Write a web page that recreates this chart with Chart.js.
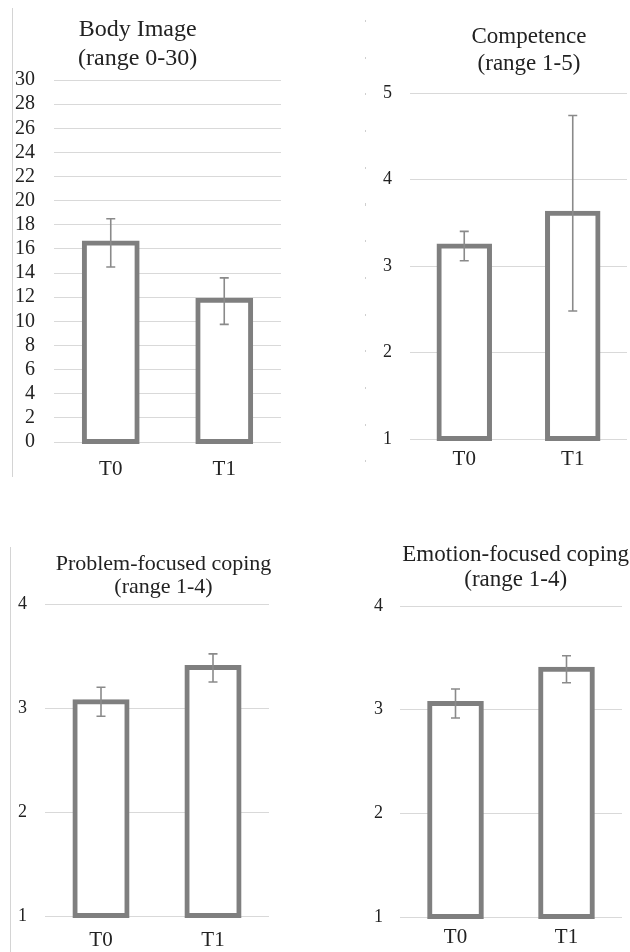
<!DOCTYPE html>
<html>
<head>
<meta charset="utf-8">
<script src="https://cdn.jsdelivr.net/npm/chart.js@4.4.0/dist/chart.umd.min.js"></script>
<style>
  body { margin: 0; background: #fff; width: 630px; height: 952px; overflow: hidden; position: relative; }
  canvas { position: absolute; }
  .t { position: absolute; font-family: "Liberation Serif", serif; color: #222; line-height: 1; white-space: nowrap; transform: translateX(-50%); }
  .vline { position: absolute; width: 1px; background: #d4d4d4; }
  .dots { position: absolute; width: 1px; background: repeating-linear-gradient(to bottom, #cfcfcf 0 2px, transparent 2px 36.7px); }
</style>
</head>
<body>
<div class="vline" style="left:12px;top:8px;height:469px"></div>
<div class="dots" style="left:365px;top:20px;height:460px"></div>
<div class="vline" style="left:10px;top:547px;height:405px"></div>

<canvas id="bodyChart" style="left:0;top:0;width:300px;height:482px"></canvas>
<canvas id="competenceChart" style="left:320px;top:0;width:310px;height:479px"></canvas>
<canvas id="problemChart" style="left:0;top:480px;width:300px;height:472px"></canvas>
<canvas id="emotionChart" style="left:320px;top:480px;width:310px;height:472px"></canvas>

<script>
const categories = ['T0', 'T1'];

// Body Image (range 0-30)
const bodyMeans = [16.5, 11.75];
const bodyLow = [14.5, 9.75];
const bodyHigh = [18.5, 13.6];

// Competence (range 1-5)
const competenceMeans = [3.23, 3.61];
const competenceLow = [3.06, 2.48];
const competenceHigh = [3.40, 4.74];

// Problem-focused coping (range 1-4)
const problemMeans = [3.06, 3.39];
const problemLow = [2.92, 3.25];
const problemHigh = [3.20, 3.52];

// Emotion-focused coping (range 1-4)
const emotionMeans = [3.06, 3.39];
const emotionLow = [2.92, 3.26];
const emotionHigh = [3.20, 3.52];

const barGrey = '#7f7f7f';
const errGrey = '#8a8a8a';
const gridGrey = '#d9d9d9';
const serif = '"Liberation Serif", serif';

// draws the error bars from the low/high arrays given in options
const errorBars = {
    id: 'errorBars',
    afterDatasetsDraw(chart, args, opts) {
        const ctx = chart.ctx;
        const yScale = chart.scales.y;
        const bars = chart.getDatasetMeta(0).data;
        ctx.save();
        ctx.strokeStyle = errGrey;
        ctx.lineWidth = 1.6;
        bars.forEach((bar, i) => {
            const yLo = yScale.getPixelForValue(opts.low[i]);
            const yHi = yScale.getPixelForValue(opts.high[i]);
            ctx.beginPath();
            ctx.moveTo(bar.x, yLo); ctx.lineTo(bar.x, yHi);
            ctx.moveTo(bar.x - 4.5, yLo); ctx.lineTo(bar.x + 4.5, yLo);
            ctx.moveTo(bar.x - 4.5, yHi); ctx.lineTo(bar.x + 4.5, yHi);
            ctx.stroke();
        });
        ctx.restore();
    }
};

function makeChart(id, means, low, high, yMin, yMax, step, box) {
    const ctx = document.getElementById(id).getContext('2d');
    return new Chart(ctx, {
        type: 'bar',
        data: {
            labels: categories,
            datasets: [{
                data: means,
                base: yMin,
                backgroundColor: '#ffffff',
                borderColor: barGrey,
                borderWidth: 5,
                borderSkipped: false,
                inflateAmount: 2.5,   // centre the outline on the bar edge, like Excel
                clip: false,
                categoryPercentage: 1,
                barPercentage: 0.465
            }]
        },
        options: {
            responsive: false,
            animation: false,
            layout: { padding: { top: box.top, right: box.right, left: 0, bottom: 0 } },
            plugins: {
                legend: { display: false },
                tooltip: { enabled: false },
                errorBars: { low: low, high: high }
            },
            scales: {
                x: {
                    grid: { display: false },
                    border: { display: false },
                    ticks: { color: '#222', padding: box.xPad, font: { family: serif, size: 21 } },
                    afterFit: (s) => { s.height = box.xHeight; }
                },
                y: {
                    min: yMin,
                    max: yMax,
                    grid: { color: gridGrey, lineWidth: 1, drawTicks: false },
                    border: { display: false },
                    ticks: { stepSize: step, autoSkip: false, color: '#222', padding: box.yPad, font: { family: serif, size: box.tickSize } },
                    afterFit: (s) => { s.width = box.yWidth; }
                }
            }
        },
        plugins: [errorBars]
    });
}

function setSize(id, w, h) {
    const c = document.getElementById(id);
    c.width = w; c.height = h;
}
setSize('bodyChart', 300, 482);
setSize('competenceChart', 310, 479);
setSize('problemChart', 300, 472);
setSize('emotionChart', 310, 472);

makeChart('bodyChart', bodyMeans, bodyLow, bodyHigh, 0, 30, 2,
    { top: 80, right: 19, yWidth: 54, yPad: 19, xHeight: 40, xPad: 7, tickSize: 20 });
makeChart('competenceChart', competenceMeans, competenceLow, competenceHigh, 1, 5, 1,
    { top: 93, right: 3, yWidth: 90, yPad: 18, xHeight: 40, xPad: 0, tickSize: 18 });
makeChart('problemChart', problemMeans, problemLow, problemHigh, 1, 4, 1,
    { top: 124, right: 31, yWidth: 45, yPad: 18, xHeight: 36, xPad: 4, tickSize: 18 });
makeChart('emotionChart', emotionMeans, emotionLow, emotionHigh, 1, 4, 1,
    { top: 126, right: 8, yWidth: 80, yPad: 17, xHeight: 35, xPad: 0, tickSize: 18 });

// panel titles, placed by baseline (line-height 1 -> baseline at 0.8375em)
const titles = [
    ['Body Image', 137.7, 36, 24], ['(range 0-30)', 137.7, 65, 24],
    ['Competence', 529, 43.5, 23], ['(range 1-5)', 529, 70, 23],
    ['Problem-focused coping', 163.5, 570.7, 22], ['(range 1-4)', 163.5, 593.5, 22],
    ['Emotion-focused coping', 515.7, 561.7, 23], ['(range 1-4)', 515.7, 586.7, 23]
];
titles.forEach(([text, cx, base, size]) => {
    const d = document.createElement('div');
    d.className = 't';
    d.textContent = text;
    d.style.left = cx + 'px';
    d.style.top = (base - 0.8375 * size) + 'px';
    d.style.fontSize = size + 'px';
    document.body.appendChild(d);
});
</script>
</body>
</html>
